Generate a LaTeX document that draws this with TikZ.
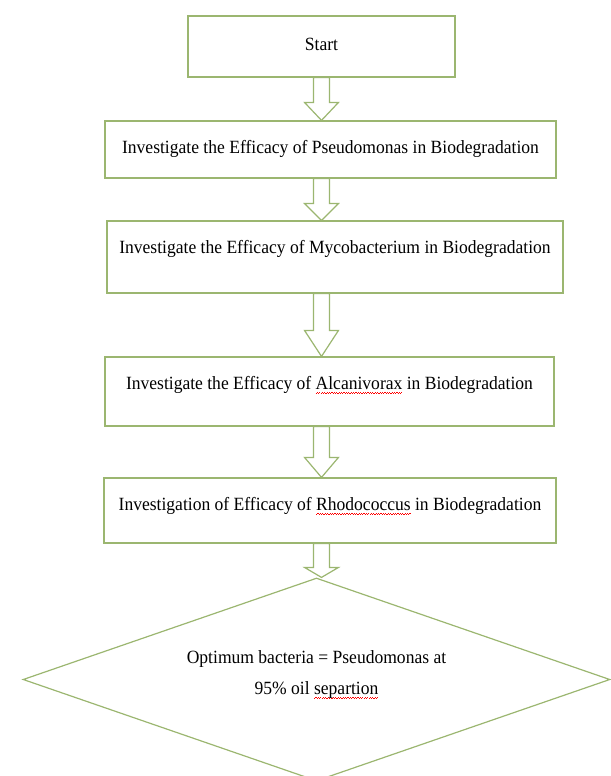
\documentclass[tikz,border=0pt]{standalone}
\usepackage{fontspec}
\setmainfont[FakeStretch=0.94]{Liberation Serif}
\usetikzlibrary{calc,shapes.geometric}
\definecolor{boxline}{RGB}{155,182,112}
\newsavebox\spellbox
\newcommand\spellmark[1]{\sbox\spellbox{#1}\rlap{\raisebox{-3.5pt}{\textcolor{red}{\hbox to\wd\spellbox{\xleaders\hbox{\rule{0.9pt}{0.6pt}\rule[0.7pt]{0.9pt}{0.6pt}}\hfill}}}}\usebox\spellbox}
\tikzset{
	box/.style={draw=boxline,line width=0.9pt,fill=white,inner sep=0pt},
	boxtext/.style={anchor=center,yshift=-21.5pt},
	blockarrow/.style={draw=boxline,line width=0.9pt,fill=white,line join=miter}
}
\begin{document}
\begin{tikzpicture}[x=0.75pt,y=-0.75pt,font=\fontsize{14}{23}\selectfont]
		\useasboundingbox (0,0) rectangle (611,776);
		\node[box,minimum width=200.25pt,minimum height=45.75pt,label={[boxtext]north:Start}] (start) at (321.5,46.5) {};
		\node[box,minimum width=338.25pt,minimum height=42.75pt,label={[boxtext]north:Investigate the Efficacy of Pseudomonas in Biodegradation}] (pseu) at (330.5,149.5) {};
		\node[box,minimum width=342pt,minimum height=54pt,label={[boxtext]north:Investigate the Efficacy of Mycobacterium in Biodegradation}] (myco) at (335,257) {};
		\node[box,minimum width=336.75pt,minimum height=51.75pt,label={[boxtext]north:Investigate the Efficacy of \spellmark{Alcanivorax} in Biodegradation}] (alca) at (329.5,391.5) {};
		\node[box,minimum width=339pt,minimum height=48.75pt,label={[boxtext]north:Investigation of Efficacy of \spellmark{Rhodococcus} in Biodegradation}] (rhod) at (330,510.5) {};
		\node[diamond,draw=boxline,line width=0.9pt,shape aspect=2.9,minimum width=440.25pt,minimum height=152.25pt,inner sep=0pt,align=center,text depth=10.5pt] (best) at (316.5,679.5) {Optimum bacteria = Pseudomonas at\\95\% oil \spellmark{separtion}};
		\foreach \a/\b/\h in {start/pseu/18,pseu/myco/17,myco/alca/26,alca/rhod/20,rhod/best/10}
		\draw[blockarrow] ($(\a.south -| start.south)+(-8,0)$)--($(\b.north -| start.south)+(-8,-\h)$)--($(\b.north -| start.south)+(-17,-\h)$)--(\b.north -| start.south)--($(\b.north -| start.south)+(17,-\h)$)--($(\b.north -| start.south)+(8,-\h)$)--($(\a.south -| start.south)+(8,0)$)--cycle;
		\end{tikzpicture}
\end{document}
